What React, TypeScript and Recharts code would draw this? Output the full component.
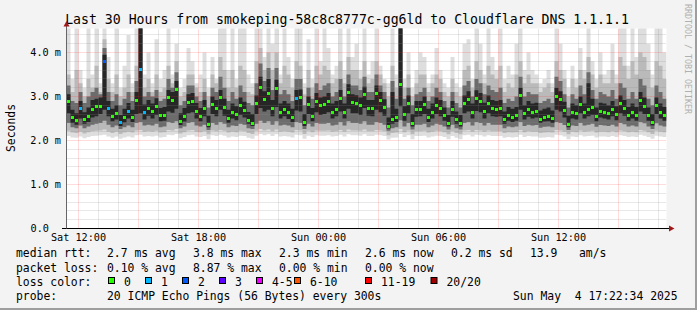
import React from 'react';
import { ComposedChart, Area, Scatter, XAxis, YAxis, ReferenceLine, CartesianGrid } from 'recharts';

// time in minutes from Sat 00:00
const START = 684;
const END = 2484;
const STEP = 12;
const YMAX = 200 / 44;

const medianRtt = [
  2.89, 2.53, 2.46, 2.72, 2.47, 2.55, 2.70, 2.77, 2.77, 3.80,
  2.72, 2.55, 2.62, 2.40, 2.53, 2.66, 2.53, 2.92, 3.62, 2.63,
  2.73, 2.66, 2.77, 2.56, 2.56, 2.98, 2.92, 3.15, 2.43, 2.55,
  2.86, 2.89, 2.66, 2.55, 2.73, 2.36, 2.81, 2.73, 2.98, 2.75,
  2.50, 2.64, 2.59, 2.79, 2.68, 2.45, 2.39, 2.83, 3.21, 2.94,
  3.06, 2.73, 3.19, 2.64, 2.71, 2.64, 2.53, 2.96, 2.97, 2.40,
  2.81, 2.55, 2.89, 2.79, 2.81, 2.89, 2.64, 2.71, 2.96, 2.64,
  3.08, 2.86, 2.84, 2.79, 3.04, 2.73, 2.73, 3.06, 2.92, 2.75,
  2.32, 2.47, 2.53, 3.27, 2.58, 2.84, 2.39, 2.71, 2.71, 2.81,
  2.53, 2.64, 2.79, 2.73, 2.56, 2.38, 2.71, 2.47, 2.38, 2.83,
  2.94, 2.64, 2.95, 2.89, 2.66, 2.83, 2.73, 2.71, 2.73, 2.47,
  2.56, 2.53, 2.56, 3.02, 2.61, 2.70, 2.64, 2.66, 2.48, 2.53,
  2.55, 2.49, 3.01, 2.94, 2.69, 2.36, 2.64, 2.61, 2.81, 2.64,
  2.71, 2.75, 2.55, 2.66, 2.64, 2.61, 2.71, 2.59, 2.83, 2.73,
  2.56, 2.64, 2.57, 2.91, 2.78, 2.56, 2.40, 2.79, 2.64, 2.56,
];

// [step index, lost pings]
const lossEvents = [[3, 1], [9, 2], [10, 1], [13, 1], [15, 1], [18, 1], [19, 1], [57, 1]];

const pingMin = [
  2.10, 2.07, 2.06, 2.09, 2.05, 2.08, 2.10, 2.11, 2.12, 2.13,
  2.09, 2.06, 2.09, 2.04, 2.07, 2.09, 2.07, 2.12, 2.13, 2.09,
  2.10, 2.09, 2.11, 2.07, 2.08, 2.13, 2.12, 2.15, 2.05, 2.08,
  2.12, 2.13, 2.09, 2.08, 2.10, 2.03, 2.12, 2.10, 2.13, 2.11,
  2.07, 2.09, 2.08, 2.11, 2.10, 2.06, 2.04, 2.11, 2.15, 2.12,
  2.14, 2.10, 2.14, 2.09, 2.10, 2.09, 2.07, 2.13, 2.12, 2.04,
  2.11, 2.08, 2.12, 2.11, 2.11, 2.12, 2.09, 2.10, 2.13, 2.09,
  2.14, 2.12, 2.12, 2.11, 2.14, 2.10, 2.10, 2.13, 2.12, 2.10,
  2.02, 2.06, 2.07, 2.15, 2.08, 2.12, 2.03, 2.10, 2.10, 2.11,
  2.07, 2.09, 2.11, 2.10, 2.08, 2.03, 2.10, 2.06, 2.03, 2.12,
  2.13, 2.09, 2.13, 2.12, 2.09, 2.12, 2.10, 2.10, 2.10, 2.06,
  2.08, 2.07, 2.08, 2.13, 2.08, 2.10, 2.09, 2.09, 2.06, 2.07,
  2.08, 2.07, 2.13, 2.12, 2.09, 2.03, 2.09, 2.08, 2.12, 2.09,
  2.10, 2.11, 2.07, 2.09, 2.09, 2.08, 2.10, 2.08, 2.12, 2.10,
  2.08, 2.09, 2.08, 2.13, 2.11, 2.08, 2.04, 2.11, 2.09, 2.08,
];

const ping10 = [
  2.22, 2.18, 2.17, 2.20, 2.16, 2.19, 2.21, 2.22, 2.23, 2.25,
  2.20, 2.17, 2.20, 2.15, 2.18, 2.20, 2.18, 2.23, 2.24, 2.20,
  2.21, 2.20, 2.22, 2.18, 2.19, 2.24, 2.23, 2.26, 2.16, 2.19,
  2.23, 2.24, 2.20, 2.19, 2.21, 2.14, 2.23, 2.21, 2.24, 2.22,
  2.18, 2.20, 2.19, 2.22, 2.21, 2.17, 2.15, 2.22, 2.26, 2.23,
  2.25, 2.21, 2.25, 2.20, 2.21, 2.20, 2.18, 2.24, 2.23, 2.15,
  2.22, 2.19, 2.23, 2.22, 2.22, 2.23, 2.20, 2.21, 2.24, 2.20,
  2.25, 2.23, 2.23, 2.22, 2.25, 2.21, 2.21, 2.24, 2.23, 2.21,
  2.12, 2.17, 2.18, 2.26, 2.19, 2.23, 2.14, 2.21, 2.21, 2.22,
  2.18, 2.20, 2.22, 2.21, 2.19, 2.14, 2.21, 2.17, 2.14, 2.23,
  2.24, 2.20, 2.24, 2.23, 2.20, 2.23, 2.21, 2.21, 2.21, 2.17,
  2.19, 2.18, 2.19, 2.24, 2.19, 2.21, 2.20, 2.20, 2.17, 2.18,
  2.19, 2.18, 2.24, 2.23, 2.20, 2.14, 2.20, 2.19, 2.23, 2.20,
  2.21, 2.22, 2.18, 2.20, 2.20, 2.19, 2.21, 2.19, 2.23, 2.21,
  2.19, 2.20, 2.19, 2.24, 2.22, 2.19, 2.15, 2.22, 2.20, 2.19,
];

const ping25 = [
  2.40, 2.30, 2.28, 2.34, 2.28, 2.32, 2.36, 2.38, 2.40, 2.45,
  2.36, 2.30, 2.34, 2.26, 2.30, 2.34, 2.30, 2.40, 2.42, 2.34,
  2.36, 2.34, 2.38, 2.30, 2.32, 2.42, 2.40, 2.44, 2.28, 2.32,
  2.40, 2.42, 2.34, 2.32, 2.36, 2.24, 2.40, 2.36, 2.42, 2.38,
  2.30, 2.34, 2.33, 2.38, 2.36, 2.28, 2.26, 2.38, 2.45, 2.40,
  2.44, 2.36, 2.44, 2.34, 2.36, 2.34, 2.30, 2.42, 2.40, 2.26,
  2.38, 2.32, 2.40, 2.38, 2.38, 2.40, 2.34, 2.36, 2.42, 2.34,
  2.44, 2.40, 2.40, 2.38, 2.44, 2.36, 2.36, 2.42, 2.40, 2.36,
  2.22, 2.28, 2.30, 2.46, 2.32, 2.40, 2.25, 2.36, 2.36, 2.38,
  2.30, 2.34, 2.38, 2.36, 2.32, 2.25, 2.36, 2.28, 2.25, 2.40,
  2.42, 2.34, 2.42, 2.40, 2.34, 2.40, 2.36, 2.36, 2.36, 2.28,
  2.32, 2.30, 2.32, 2.42, 2.33, 2.36, 2.34, 2.35, 2.29, 2.31,
  2.32, 2.30, 2.42, 2.40, 2.35, 2.24, 2.34, 2.33, 2.40, 2.34,
  2.36, 2.38, 2.31, 2.35, 2.34, 2.33, 2.36, 2.32, 2.40, 2.37,
  2.32, 2.34, 2.32, 2.42, 2.39, 2.32, 2.26, 2.39, 2.34, 2.32,
];

const ping40 = [
  2.62, 2.40, 2.36, 2.50, 2.38, 2.42, 2.52, 2.55, 2.60, 2.70,
  2.55, 2.44, 2.48, 2.33, 2.41, 2.50, 2.42, 2.60, 2.62, 2.48,
  2.56, 2.50, 2.58, 2.44, 2.45, 2.66, 2.63, 2.72, 2.35, 2.43,
  2.62, 2.64, 2.50, 2.44, 2.55, 2.30, 2.60, 2.55, 2.70, 2.56,
  2.40, 2.50, 2.46, 2.58, 2.52, 2.38, 2.33, 2.60, 2.74, 2.66,
  2.70, 2.55, 2.76, 2.50, 2.55, 2.49, 2.42, 2.68, 2.66, 2.33,
  2.60, 2.44, 2.64, 2.58, 2.60, 2.64, 2.50, 2.55, 2.66, 2.50,
  2.72, 2.62, 2.62, 2.58, 2.74, 2.56, 2.55, 2.70, 2.64, 2.56,
  2.27, 2.38, 2.42, 2.78, 2.45, 2.62, 2.32, 2.54, 2.55, 2.60,
  2.42, 2.50, 2.60, 2.55, 2.45, 2.32, 2.54, 2.38, 2.32, 2.62,
  2.66, 2.50, 2.67, 2.64, 2.50, 2.62, 2.55, 2.54, 2.55, 2.38,
  2.45, 2.42, 2.45, 2.70, 2.48, 2.54, 2.50, 2.52, 2.40, 2.43,
  2.44, 2.40, 2.70, 2.66, 2.52, 2.30, 2.50, 2.48, 2.62, 2.50,
  2.55, 2.58, 2.44, 2.52, 2.50, 2.48, 2.55, 2.46, 2.62, 2.56,
  2.45, 2.50, 2.45, 2.66, 2.60, 2.45, 2.34, 2.60, 2.50, 2.45,
];

const ping60 = [
  3.05, 2.70, 2.62, 2.90, 2.64, 2.75, 2.92, 2.95, 2.98, 3.95,
  2.90, 2.72, 2.80, 2.58, 2.72, 2.85, 2.70, 3.10, 4.60, 2.82,
  2.92, 2.84, 2.96, 2.74, 2.76, 3.15, 3.10, 3.35, 2.62, 2.74,
  3.05, 3.08, 2.85, 2.74, 2.92, 2.56, 3.00, 2.92, 3.15, 2.95,
  2.70, 2.84, 2.78, 2.98, 2.88, 2.65, 2.60, 3.02, 3.45, 3.12,
  3.40, 2.92, 3.38, 2.84, 2.90, 2.84, 2.72, 3.15, 3.16, 2.60,
  3.00, 2.74, 3.08, 2.98, 3.00, 3.08, 2.84, 2.90, 3.15, 2.84,
  3.28, 3.05, 3.03, 2.98, 3.22, 2.92, 2.92, 3.25, 3.10, 2.94,
  2.52, 3.10, 2.72, 4.60, 2.78, 3.02, 2.60, 2.90, 2.90, 3.00,
  2.72, 2.84, 2.98, 2.92, 2.75, 2.58, 2.90, 2.66, 2.58, 3.02,
  3.12, 2.84, 3.14, 3.08, 2.86, 3.02, 2.92, 2.90, 2.92, 2.66,
  2.76, 2.72, 2.76, 3.20, 2.80, 2.90, 2.84, 2.86, 2.68, 2.72,
  2.75, 2.68, 3.20, 3.12, 2.88, 2.56, 2.84, 2.80, 3.00, 2.84,
  3.30, 2.95, 2.75, 2.86, 2.84, 2.80, 2.90, 2.78, 3.02, 2.92,
  2.76, 2.84, 2.76, 3.10, 2.98, 2.75, 2.60, 2.98, 2.84, 2.76,
];

const ping75 = [
  3.25, 2.90, 2.85, 3.10, 2.85, 3.00, 3.10, 3.20, 3.05, 4.10,
  3.10, 2.90, 3.05, 2.80, 2.95, 3.10, 2.90, 3.35, 4.60, 3.00,
  3.10, 3.00, 3.15, 2.90, 2.95, 3.40, 3.20, 3.55, 2.80, 2.90,
  3.25, 3.25, 3.00, 2.90, 3.10, 2.75, 3.20, 3.10, 3.45, 3.20,
  2.90, 3.10, 2.95, 3.25, 3.10, 2.85, 2.80, 3.30, 3.75, 3.35,
  3.65, 3.15, 3.65, 3.05, 3.15, 3.05, 2.90, 3.40, 3.40, 2.80,
  3.20, 2.95, 3.30, 3.15, 3.25, 3.30, 3.00, 3.10, 3.40, 3.00,
  3.50, 3.25, 3.25, 3.15, 3.45, 3.10, 3.10, 3.50, 3.25, 3.10,
  2.75, 3.35, 2.95, 4.60, 2.95, 3.20, 2.80, 3.05, 3.10, 3.20,
  2.90, 3.00, 3.20, 3.10, 2.90, 2.75, 3.10, 2.85, 2.75, 3.25,
  3.35, 3.00, 3.40, 3.30, 3.05, 3.25, 3.15, 3.10, 3.20, 2.85,
  2.95, 2.90, 3.00, 3.45, 3.00, 3.10, 3.05, 3.05, 2.85, 2.90,
  2.95, 2.85, 3.45, 3.35, 3.05, 2.75, 3.05, 2.95, 3.25, 3.05,
  3.55, 3.15, 2.95, 3.10, 3.05, 3.00, 3.15, 2.95, 3.30, 3.20,
  2.95, 3.10, 2.95, 3.40, 3.25, 2.95, 2.80, 3.25, 3.10, 2.95,
];

const ping90 = [
  3.50, 3.10, 3.60, 3.30, 3.00, 3.40, 3.20, 3.70, 3.10, 4.30,
  3.40, 3.10, 3.50, 3.00, 3.20, 3.50, 3.10, 3.70, 4.60, 3.20,
  3.40, 3.10, 3.50, 3.10, 3.20, 3.70, 3.30, 3.80, 3.00, 3.10,
  3.50, 3.50, 3.20, 3.10, 3.40, 3.00, 3.50, 3.30, 3.90, 3.60,
  3.20, 3.60, 3.20, 3.70, 3.60, 3.10, 3.05, 3.80, 4.10, 3.60,
  4.00, 3.60, 4.00, 3.30, 3.70, 3.50, 3.20, 3.80, 3.70, 3.05,
  3.60, 3.20, 3.70, 3.50, 3.70, 3.60, 3.30, 3.40, 3.80, 3.30,
  3.90, 3.60, 3.60, 3.40, 3.80, 3.30, 3.40, 3.80, 3.50, 3.30,
  3.00, 3.70, 3.20, 4.60, 3.20, 3.50, 3.00, 3.30, 3.50, 3.50,
  3.10, 3.30, 3.50, 3.40, 3.10, 3.00, 3.40, 3.10, 3.00, 3.60,
  3.70, 3.20, 3.80, 3.60, 3.30, 3.70, 3.50, 3.40, 3.70, 3.10,
  3.30, 3.20, 3.50, 3.80, 3.30, 3.50, 3.30, 3.30, 3.10, 3.20,
  3.30, 3.10, 3.80, 3.60, 3.40, 3.00, 3.40, 3.20, 3.60, 3.40,
  3.90, 3.50, 3.20, 3.50, 3.30, 3.30, 3.60, 3.30, 3.90, 3.70,
  3.40, 3.80, 3.50, 4.00, 3.90, 3.60, 3.20, 3.80, 3.70, 3.40,
];

const pingMax = [
  4.60, 3.40, 4.60, 3.60, 3.20, 4.60, 3.50, 4.60, 3.30, 4.60,
  3.90, 3.30, 4.60, 3.20, 3.70, 4.40, 3.30, 4.60, 4.60, 3.50,
  4.00, 3.30, 4.30, 3.40, 3.60, 4.60, 3.50, 4.20, 3.20, 3.40,
  4.10, 3.80, 3.30, 3.50, 4.00, 3.20, 3.90, 3.40, 4.60, 4.60,
  3.60, 4.60, 3.40, 4.60, 4.60, 3.50, 3.30, 4.60, 4.60, 3.90,
  4.60, 4.20, 4.60, 3.50, 4.60, 3.90, 3.40, 4.60, 4.60, 3.30,
  4.30, 3.40, 4.60, 3.80, 4.60, 4.10, 3.50, 3.70, 4.60, 3.60,
  4.60, 3.90, 4.20, 3.60, 4.60, 3.50, 3.80, 4.60, 3.70, 3.40,
  3.30, 4.60, 3.50, 4.60, 3.40, 4.00, 3.20, 3.60, 4.00, 3.90,
  3.30, 3.50, 4.10, 3.60, 3.30, 3.20, 3.90, 3.30, 3.20, 4.20,
  4.30, 3.40, 4.60, 4.20, 3.50, 4.60, 3.90, 3.60, 4.60, 3.40,
  3.70, 3.50, 4.20, 4.60, 3.60, 4.00, 3.60, 3.50, 3.30, 3.40,
  3.60, 3.30, 4.60, 4.20, 3.60, 3.20, 3.70, 3.40, 4.10, 3.60,
  4.60, 3.80, 3.40, 4.00, 3.50, 3.60, 4.20, 3.50, 4.60, 4.60,
  3.70, 4.60, 3.90, 4.60, 4.60, 4.20, 3.50, 4.60, 4.60, 4.00,
];

const timeTicks = [720, 1080, 1440, 1800, 2160];
const timeLabels = ['Sat 12:00', 'Sat 18:00', 'Sun 00:00', 'Sun 06:00', 'Sun 12:00'];
const yTicks = [0, 1, 2, 3, 4];
const yLabels = ['0.0', '1.0 m', '2.0 m', '3.0 m', '4.0 m'];

const lossLevels = [0, 1, 2, 3, 5, 10, 19, 20];
const lossNames = ['0', '1', '2', '3', '4-5', '6-10', '11-19', '20/20'];
const lossColors = ['#26ff00', '#00b8ff', '#0059ff', '#5e00ff', '#ee00ff', '#ff5500', '#ff0000', '#a10000'];

const rttStats = ['2.7 ms avg', '3.8 ms max', '2.3 ms min', '2.6 ms now', '0.2 ms sd'];
const amValue = '13.9';
const amUnit = 'am/s';
const lossStats = ['0.10 % avg', '8.87 % max', '0.00 % min', '0.00 % now'];
const probeText = '20 ICMP Echo Pings (56 Bytes) every 300s';
const dateText = 'Sun May  4 17:22:34 2025';
const titleText = 'Last 30 Hours from smokeping-58c8c8777c-gg6ld to Cloudflare DNS 1.1.1.1';

const lossMap = new Map(lossEvents.map(([i, l]) => [i, l]));
const lossColor = (l) => {
  const k = lossLevels.findIndex((lv) => l <= lv);
  return lossColors[k < 0 ? lossColors.length - 1 : k];
};

const rows = medianRtt.map((_, i) => ({
  t: START + i * STEP,
  b1: [pingMin[i], pingMax[i]],
  b2: [ping10[i], ping90[i]],
  b3: [ping25[i], ping75[i]],
  b4: [ping40[i], ping60[i]],
}));
rows.push({ ...rows[rows.length - 1], t: END });

const medPts = medianRtt.map((v, i) => ({ t: START + i * STEP + STEP / 2, median: v, loss: lossMap.get(i) || 0 }));

const minorY = [];
for (let k = 1; k <= 22; k++) { if (k % 5 !== 0) minorY.push(k * 0.2); }
const majorY = [1, 2, 3, 4];
const minorX = [];
const majorX = [];
for (let t = 720; t < END; t += 60) { ((t - 720) % 180 === 0 ? majorX : minorX).push(t); }

const MONO = '"DejaVu Sans Mono", "Liberation Mono", monospace';

const XTick = (p) => {
  const i = timeTicks.indexOf(p.payload.value);
  return (
    <text x={p.x} y={241} textAnchor="middle" fontFamily={MONO} fontSize={10.2} fill="#000">{timeLabels[i]}</text>
  );
};

const YTick = (p) => {
  const v = p.payload.value;
  const i = yTicks.indexOf(v);
  return (
    <text x={v === 0 ? 49 : 61} y={p.y} textAnchor="end" dominantBaseline="central" fontFamily={MONO} fontSize={10.2} fill="#000">{yLabels[i]}</text>
  );
};

const Dot = (p) => {
  const { cx, cy, payload } = p;
  return <rect x={Math.round(cx - 1.5)} y={Math.round(cy - 1.5)} width={3} height={3} fill={lossColor(payload.loss)} />;
};

const gridShape = (color, opacity) => (p) => {
  const x1 = Math.round(p.x1 - 0.5) + 0.5;
  const x2 = Math.round(p.x2 - 0.5) + 0.5;
  const y1 = Math.round(p.y1 - 0.5) + 0.5;
  const y2 = Math.round(p.y2 - 0.5) + 0.5;
  const vertical = Math.abs(p.x1 - p.x2) < 0.01;
  return (
    <line
      x1={vertical ? x1 : p.x1}
      x2={vertical ? x2 : p.x2}
      y1={vertical ? p.y1 : y1}
      y2={vertical ? p.y2 : y2}
      stroke={color}
      strokeOpacity={opacity}
      strokeWidth={1}
      strokeDasharray="1 1"
    />
  );
};
const minorShape = gridShape('#8c8c8c', 0.4);
const majorShape = gridShape('#ff2020', 0.32);

const statX = [107, 193, 279, 365, 451];
const boxX = [108, 145, 182, 219, 256, 294, 365, 430.5];
const rowY = [257.3, 271.6, 285.7, 300];

export default function App() {
  const txt = { fontFamily: MONO, fontSize: 11.4, fill: '#000', style: { whiteSpace: 'pre' } };
  return (
    <div style={{ position: 'relative', width: 697, height: 310, background: '#f3f3f3', overflow: 'hidden' }}>
      <style>{'body{margin:0}'}</style>
      <div style={{ position: 'absolute', left: 0, top: 0 }}>
        <ComposedChart width={697} height={310} data={rows} margin={{ top: 28.5, right: 30.5, bottom: 61.5, left: 6.5 }}>
          <CartesianGrid fill="#ffffff" stroke="none" horizontal={false} vertical={false} />
          <XAxis dataKey="t" type="number" domain={[START, END]} allowDataOverflow ticks={timeTicks} tick={XTick} axisLine={false} tickLine={false} height={20} interval={0} />
          <YAxis type="number" domain={[0, YMAX]} allowDataOverflow ticks={yTicks} tick={YTick} axisLine={false} tickLine={false} width={60} interval={0} />
          <Area dataKey="b1" type="stepAfter" fill="#dedede" fillOpacity={1} stroke="none" isAnimationActive={false} />
          <Area dataKey="b2" type="stepAfter" fill="#bababa" fillOpacity={1} stroke="none" isAnimationActive={false} />
          <Area dataKey="b3" type="stepAfter" fill="#6c6c6c" fillOpacity={1} stroke="none" isAnimationActive={false} />
          <Area dataKey="b4" type="stepAfter" fill="#262626" fillOpacity={1} stroke="none" isAnimationActive={false} />
          {minorY.map((v) => (
            <ReferenceLine key={'my' + v} y={v} shape={minorShape} />
          ))}
          {minorX.map((v) => (
            <ReferenceLine key={'mx' + v} x={v} shape={minorShape} />
          ))}
          {majorY.map((v) => (
            <ReferenceLine key={'My' + v} y={v} shape={majorShape} />
          ))}
          {majorX.map((v) => (
            <ReferenceLine key={'Mx' + v} x={v} shape={majorShape} />
          ))}
          <Scatter data={medPts} dataKey="median" shape={Dot} isAnimationActive={false} />
        </ComposedChart>
      </div>
      <svg width={697} height={310} style={{ position: 'absolute', left: 0, top: 0, pointerEvents: 'none' }}>
        <text x={347} y={24} textAnchor="middle" fontFamily={MONO} fontSize={13.2} fill="#000" style={{ whiteSpace: 'pre' }}>{titleText}</text>
        <text x={11} y={128} transform="rotate(-90 11 128)" textAnchor="middle" dominantBaseline="central" fontFamily={MONO} fontSize={11.4} fill="#000">Seconds</text>
        <text x={688} y={59} transform="rotate(90 688 59)" textAnchor="middle" dominantBaseline="central" fontFamily={MONO} fontSize={8.3} fill="#b0b0b0">RRDTOOL / TOBI OETIKER</text>
        <line x1={62} x2={669} y1={228.5} y2={228.5} stroke="#000" strokeWidth={1} />
        <polygon points="669,225.5 674.5,228.5 669,231.5" fill="#a01818" />
        <line x1={66.5} x2={66.5} y1={228.5} y2={25} stroke="#666" strokeWidth={1} />
        <polygon points="63.5,26.5 66.5,21 69.5,26.5" fill="#a01818" />
        <rect x={695} y={0} width={2} height={310} fill="#9e9e9e" />
        <rect x={0} y={308} width={697} height={2} fill="#9e9e9e" />

        <text x={16} y={rowY[0]} {...txt}>median rtt:</text>
        {rttStats.map((s, i) => (
          <text key={'r' + i} x={statX[i]} y={rowY[0]} {...txt}>{s}</text>
        ))}
        <text x={530} y={rowY[0]} {...txt}>{amValue}</text>
        <text x={579} y={rowY[0]} {...txt}>{amUnit}</text>

        <text x={16} y={rowY[1]} {...txt}>packet loss:</text>
        {lossStats.map((s, i) => (
          <text key={'l' + i} x={statX[i]} y={rowY[1]} {...txt}>{s}</text>
        ))}

        <text x={16} y={rowY[2]} {...txt}>loss color:</text>
        {lossNames.map((n, i) => (
          <g key={'c' + i}>
            <rect x={boxX[i] + 0.5} y={277.5} width={6} height={6} fill={lossColors[i]} stroke="#000" strokeWidth={1} />
            <text x={boxX[i] + 16} y={rowY[2]} {...txt}>{n}</text>
          </g>
        ))}

        <text x={16} y={rowY[3]} {...txt}>probe:</text>
        <text x={107} y={rowY[3]} {...txt}>{probeText}</text>
        <text x={513} y={rowY[3]} {...txt}>{dateText}</text>
      </svg>
    </div>
  );
}
